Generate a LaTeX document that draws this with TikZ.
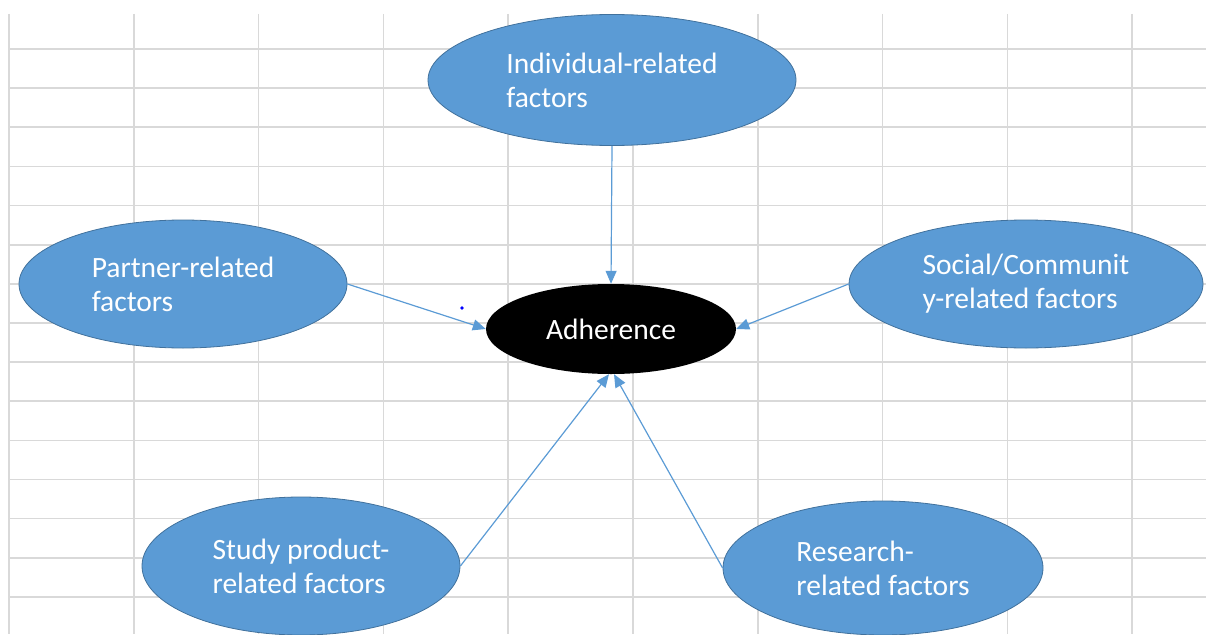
\documentclass[tikz,border=0pt]{standalone}
\usepackage{fontspec}
\setmainfont{Carlito}
\usetikzlibrary{arrows.meta, shapes.geometric}
\definecolor{CellGrid}{RGB}{217,217,217}
\definecolor{FactorBlue}{RGB}{91,155,213}
\definecolor{FactorEdge}{RGB}{65,113,156}

\begin{document}
\begin{tikzpicture}[x=1pt, y=-1pt, >=Stealth,
    factor/.style={ellipse, draw=FactorEdge, line width=0.8pt, fill=FactorBlue, text=white,
      align=left, inner sep=0pt, font=\fontsize{29.5}{34}\selectfont},
    link/.style={->, FactorBlue, line width=1.2pt, >={Triangle[length=13pt, width=11pt]}}]
    \useasboundingbox (0,0) rectangle (1206,634);
    % Spreadsheet grid
    \foreach \k in {0,...,9} {
        \draw[CellGrid, line width=1.6pt] (9+124.8*\k,14) -- (9+124.8*\k,634);
    }
    \foreach \k in {0,...,14} {
        \draw[CellGrid, line width=1.6pt] (9,49+39.14*\k) -- (1206,49+39.14*\k);
    }

    % Factors
    \node[factor, minimum width=368pt, minimum height=131pt] (indiv) at (612,80) {Individual-related\\factors};
    \node[factor, minimum width=328pt, minimum height=128pt] (partner) at (183,284) {Partner-related\\factors};
    \node[factor, minimum width=354pt, minimum height=128pt] (social) at (1026,284) {Social/Communit\\y-related factors};
    \node[factor, minimum width=318pt, minimum height=138pt] (study) at (301,566) {Study product-\\related factors};
    \node[factor, minimum width=320pt, minimum height=134pt] (research) at (883,568) {Research-\\related factors};

    % Centre
    \node[ellipse, fill=black, text=white, inner sep=0pt, minimum width=250pt, minimum height=90pt,
      font=\fontsize{29.5}{34}\selectfont] (adh) at (611,329) {Adherence};
    \fill[blue] (462,308) circle (1.8);

    % Arrows
    \draw[link] (indiv.south) -- (adh.north);
    \draw[link] (partner.east) -- (adh.west);
    \draw[link] (social.west) -- (adh.east);
    \draw[link] (study.east) -- ([xshift=-2pt]adh.south);
    \draw[link] (research.west) -- ([xshift=3pt]adh.south);
\end{tikzpicture}
\end{document}
